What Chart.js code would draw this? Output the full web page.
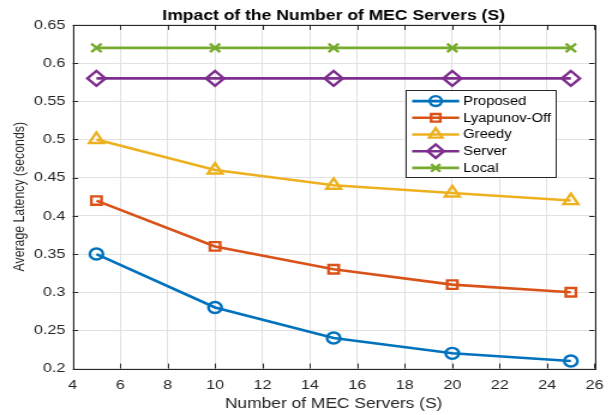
<!DOCTYPE html>
<html>
<head>
<meta charset="utf-8">
<script src="https://cdn.jsdelivr.net/npm/chart.js@4.4.1/dist/chart.umd.min.js"></script>
<style>
  html, body { margin: 0; padding: 0; background: #fff; overflow: hidden; }
  /* the figure is laid out at 512px and widened to the 614px frame */
  #wrap { width: 512px; height: 415px; transform: scaleX(1.2); transform-origin: 0 0; }
</style>
</head>
<body>
<div id="wrap"><canvas id="c"></canvas></div>
<script>
// Number of MEC servers on the x axis
const serverCounts = [5, 10, 15, 20, 25];

// Average latency (seconds) per scheme
const proposed    = [0.35, 0.28, 0.24, 0.22, 0.21];
const lyapunovOff = [0.42, 0.36, 0.33, 0.31, 0.30];
const greedy      = [0.50, 0.46, 0.44, 0.43, 0.42];
const serverOnly  = [0.58, 0.58, 0.58, 0.58, 0.58];
const localOnly   = [0.62, 0.62, 0.62, 0.62, 0.62];

const seriesNames = ['Proposed', 'Lyapunov-Off', 'Greedy', 'Server', 'Local'];

// Axis tick values
const xTicks = [4, 6, 8, 10, 12, 14, 16, 18, 20, 22, 24, 26];
const yTicks = [0.2, 0.25, 0.3, 0.35, 0.4, 0.45, 0.5, 0.55, 0.6, 0.65];

const FONT = '"Liberation Sans", Arial, Helvetica, sans-serif';
const INK = '#262626';
const GRID = '#e1e1e1';

const palette = ['#0072BD', '#D95319', '#EDB120', '#7E2F8E', '#77AC30'];
const markers = [
  { style: 'circle',   radius: 5.5 },
  { style: 'rect',     radius: 6 },
  { style: 'triangle', radius: 7 },
  { style: 'rectRot',  radius: 7.5 },
  { style: 'crossRot', radius: 6 }
];
const seriesValues = [proposed, lyapunovOff, greedy, serverOnly, localOnly];

const datasets = seriesValues.map((vals, i) => ({
  label: seriesNames[i],
  data: serverCounts.map((x, k) => ({ x: x, y: vals[k] })),
  borderColor: palette[i],
  borderWidth: 2.6,
  pointStyle: markers[i].style,
  pointRadius: markers[i].radius,
  pointHoverRadius: markers[i].radius,
  pointBorderColor: palette[i],
  pointBackgroundColor: 'rgba(0,0,0,0)',
  pointBorderWidth: 2.4,
  fill: false,
  tension: 0
}));

// Box around the plot, inward tick marks on all four sides, and the inset legend
const axesBox = {
  id: 'axesBox',
  afterDraw(chart) {
    const { ctx, chartArea: a, scales } = chart;
    const xs = scales.x, ys = scales.y;
    ctx.save();
    ctx.strokeStyle = INK;
    ctx.lineWidth = 1;
    ctx.beginPath();
    xTicks.forEach(v => {
      const px = Math.round(xs.getPixelForValue(v)) + 0.5;
      ctx.moveTo(px, a.bottom); ctx.lineTo(px, a.bottom - 5);
      ctx.moveTo(px, a.top);    ctx.lineTo(px, a.top + 5);
    });
    yTicks.forEach(v => {
      const py = Math.round(ys.getPixelForValue(v)) + 0.5;
      ctx.moveTo(a.left, py);  ctx.lineTo(a.left + 4.5, py);
      ctx.moveTo(a.right, py); ctx.lineTo(a.right - 4.5, py);
    });
    ctx.stroke();
    ctx.strokeRect(Math.round(a.left) + 0.5, Math.round(a.top) + 0.5,
                   Math.round(a.right - a.left), Math.round(a.bottom - a.top));

    // legend
    const bx = a.right - 157.8, by = a.top + 65.2, bw = 125, bh = 87;
    ctx.fillStyle = '#fff';
    ctx.fillRect(bx, by, bw, bh);
    ctx.strokeStyle = INK;
    ctx.strokeRect(Math.round(bx) + 0.5, Math.round(by) + 0.5, bw, bh);
    ctx.font = '12.3px ' + FONT;
    ctx.textBaseline = 'middle';
    ctx.textAlign = 'left';
    chart.data.datasets.forEach((ds, i) => {
      const cy = by + 11 + i * 16.7;
      const x0 = bx + 5.8, x1 = x0 + 39.2;
      ctx.strokeStyle = ds.borderColor;
      ctx.lineWidth = ds.borderWidth;
      ctx.beginPath(); ctx.moveTo(x0, cy); ctx.lineTo(x1, cy); ctx.stroke();
      ctx.lineWidth = ds.pointBorderWidth;
      ctx.fillStyle = 'rgba(0,0,0,0)';
      Chart.helpers.drawPoint(ctx, {
        pointStyle: ds.pointStyle, radius: ds.pointRadius * 0.9,
        rotation: 0, borderWidth: ds.pointBorderWidth
      }, (x0 + x1) / 2, cy);
      ctx.fillStyle = '#000';
      ctx.fillText(ds.label, bx + 48.3, cy + 0.5);
    });
    ctx.restore();
  }
};

Chart.defaults.font.family = FONT;
Chart.defaults.color = INK;

new Chart(document.getElementById('c'), {
  type: 'line',
  data: { datasets: datasets },
  plugins: [axesBox],
  options: {
    responsive: true,
    maintainAspectRatio: false,
    animation: false,
    events: [],
    layout: { padding: { left: 0, right: 14.2, top: 0, bottom: 0 } },
    plugins: {
      legend: { display: false },
      tooltip: { enabled: false },
      title: {
        display: true,
        text: 'Impact of the Number of MEC Servers (S)',
        color: '#000',
        fullSize: false,
        font: { size: 14.6, weight: 'bold' },
        padding: { top: 7.4, bottom: 0 }
      }
    },
    scales: {
      x: {
        type: 'linear',
        min: 4, max: 26,
        afterBuildTicks: s => { s.ticks = xTicks.map(v => ({ value: v })); },
        afterFit: s => { s.height = 46.4; },
        ticks: { padding: 9, font: { size: 13.5 }, color: INK, callback: v => String(v) },
        grid: { color: GRID, lineWidth: 1, drawTicks: false },
        border: { display: false },
        title: {
          display: true, text: 'Number of MEC Servers (S)', color: INK,
          font: { size: 14.5 }, padding: { top: 0, bottom: 2 }
        }
      },
      y: {
        type: 'linear',
        min: 0.2, max: 0.65,
        afterBuildTicks: s => { s.ticks = yTicks.map(v => ({ value: v })); },
        afterFit: s => { s.width = 60.6; },
        ticks: { padding: 6, font: { size: 13.5 }, color: INK, callback: v => String(+v.toFixed(2)) },
        grid: { color: GRID, lineWidth: 1, drawTicks: false },
        border: { display: false },
        title: {
          display: true, text: 'Average Latency (seconds)', color: INK,
          font: { size: 12.3 }, padding: { top: 9.3, bottom: 0 }
        }
      }
    }
  }
});
</script>
</body>
</html>
